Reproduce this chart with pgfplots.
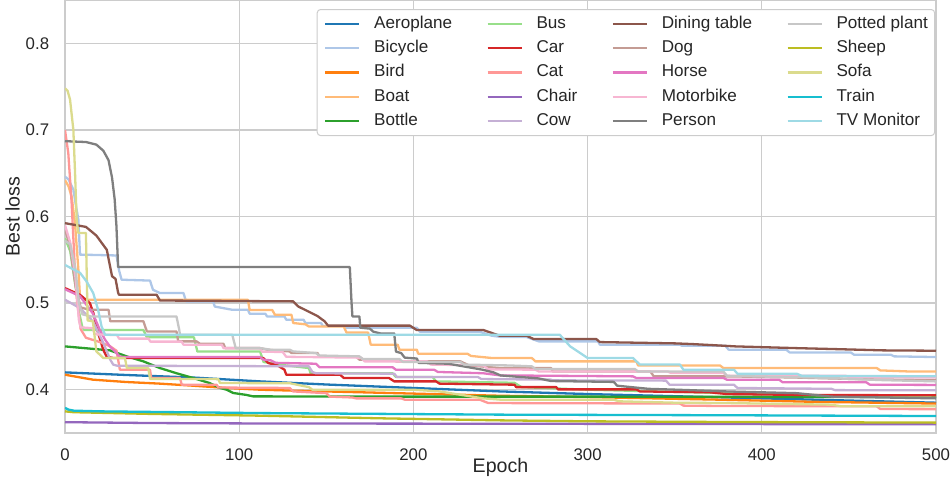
\documentclass[border=0pt]{standalone}
\usepackage{fontspec}
\setmainfont{Liberation Sans}
\usepackage{pgfplots}
\pgfplotsset{compat=1.18}
\definecolor{c1}{HTML}{1F77B4}
\definecolor{c2}{HTML}{AEC7E8}
\definecolor{c3}{HTML}{FF7F0E}
\definecolor{c4}{HTML}{FFBB78}
\definecolor{c5}{HTML}{2CA02C}
\definecolor{c6}{HTML}{98DF8A}
\definecolor{c7}{HTML}{D62728}
\definecolor{c8}{HTML}{FF9896}
\definecolor{c9}{HTML}{9467BD}
\definecolor{c10}{HTML}{C5B0D5}
\definecolor{c11}{HTML}{8C564B}
\definecolor{c12}{HTML}{C49C94}
\definecolor{c13}{HTML}{E377C2}
\definecolor{c14}{HTML}{F7B6D2}
\definecolor{c15}{HTML}{7F7F7F}
\definecolor{c16}{HTML}{C7C7C7}
\definecolor{c17}{HTML}{BCBD22}
\definecolor{c18}{HTML}{DBDB8D}
\definecolor{c19}{HTML}{17BECF}
\definecolor{c20}{HTML}{9EDAE5}
\definecolor{gridgray}{HTML}{CCCCCC}
\definecolor{textgray}{HTML}{262626}
\begin{document}
\begin{tikzpicture}
\useasboundingbox (-65pt,-57pt) rectangle (886pt,433pt);
\begin{axis}[
  at={(0pt,0pt)}, anchor=south west,
  width=871pt, height=433pt, scale only axis,
  xmin=0, xmax=500, ymin=0.35, ymax=0.85,
  xtick={0,100,200,300,400,500},
  ytick={0.4,0.5,0.6,0.7,0.8},
  /pgf/number format/assume math mode=true,
  yticklabel style={/pgf/number format/fixed,/pgf/number format/precision=1,/pgf/number format/fixed zerofill,
    anchor=east, inner sep=0pt, xshift=-15.7pt},
  xticklabel style={anchor=north, inner sep=0pt, yshift=-15.5pt},
  ticklabel style={font=\fontsize{16.8}{20}\selectfont, text=textgray},
  major tick length=0pt,
  grid=major,
  major grid style={line width=1.3pt, draw=gridgray},
  axis line style={line width=1.4pt, draw=gridgray},
  xlabel={Epoch},
  ylabel={Best loss},
  xlabel style={at={(axis description cs:0.5,0)}, anchor=north, inner sep=0pt, yshift=-25pt,
    font=\fontsize{19.6}{23}\selectfont, text=textgray},
  ylabel style={at={(axis description cs:-0.0517,0.5)}, anchor=south, inner sep=0pt,
    font=\fontsize{19.6}{23}\selectfont, text=textgray},
  every axis plot/.append style={line width=2.3pt, line join=round},
  legend columns=4,
  legend cell align=left,
  legend image code/.code={\draw[#1] (0pt,0pt) -- (34.2pt,0pt);},
  legend style={at={(rel axis cs:0.2890,0.9792)}, anchor=north west,
    draw=gridgray, line width=1pt, rounded corners=3.4pt, fill=white,
    font=\fontsize{17.1}{20}\selectfont, text=textgray,
    inner xsep=6.8pt, inner ysep=6.5pt, row sep=8.4pt,
    nodes={inner sep=0pt, text height=12.3pt, text depth=3.6pt},
    /tikz/every odd column/.append style={column sep=13.7pt},
    /tikz/every even column/.append style={column sep=34.2pt}},
]
% Aeroplane
\addplot[c1, forget plot] coordinates {(0,0.420)(35,0.417)(74,0.414)(112,0.4096)(129,0.408)(150,0.406)(200,0.402)(250,0.398)(300,0.395)(380,0.391)(440,0.388)(500,0.385)};
% Bicycle
\addplot[c2, forget plot] coordinates {(0,0.646)(2,0.643)(4.8,0.631)(6.5,0.61)(7.7,0.596)(8.6,0.556)(29.6,0.555)(31,0.538)(32.5,0.527)(48.8,0.526)(50.5,0.5154)(54.5,0.5116)(68,0.5116)(69.5,0.502)(85,0.502)(86,0.496)(96,0.4923)(105,0.4923)(106,0.4877)(115,0.4877)(116,0.4846)(126,0.4846)(127,0.4808)(137,0.4808)(138,0.477)(147,0.477)(148,0.4735)(160,0.4735)(161,0.4715)(202,0.4715)(203.7,0.467)(238,0.467)(245,0.4623)(250,0.461)(265,0.4608)(272,0.4558)(306,0.4558)(307,0.452)(353,0.452)(354,0.4508)(379,0.4508)(381,0.4462)(414,0.4462)(416,0.443)(451,0.443)(453,0.4404)(474,0.4404)(476,0.4385)(500,0.4377)};
% Bird
\addplot[c3, forget plot] coordinates {(0,0.4173)(5,0.4155)(16,0.4116)(35,0.4089)(54.5,0.407)(73.6,0.4046)(92.8,0.402)(112,0.400)(129,0.399)(170,0.397)(250,0.393)(300,0.3915)(375,0.3885)(430,0.386)(500,0.384)};
% Boat
\addplot[c4, forget plot] coordinates {(0,0.642)(2,0.635)(3.8,0.623)(5.7,0.593)(7.7,0.538)(8.6,0.508)(10.5,0.5039)(105,0.5039)(106,0.492)(119,0.492)(120.5,0.4865)(130,0.4865)(131,0.477)(138,0.4755)(140,0.473)(160,0.473)(161.6,0.466)(174,0.466)(175.5,0.452)(191,0.452)(192,0.4462)(202,0.4462)(202.7,0.4416)(231,0.4416)(233,0.439)(245,0.4366)(268,0.4366)(270,0.4327)(328,0.4327)(329,0.428)(376,0.428)(378,0.425)(466,0.425)(468,0.4223)(485,0.421)(500,0.421)};
% Bottle
\addplot[c5, forget plot] coordinates {(0,0.450)(25.8,0.4454)(35.4,0.4385)(45,0.4327)(54.5,0.425)(64,0.419)(73.6,0.4135)(83,0.4077)(89,0.402)(92.8,0.400)(96.6,0.3962)(104,0.394)(108,0.3923)(200,0.392)(300,0.392)(500,0.3915)};
% Bus
\addplot[c6, forget plot] coordinates {(0,0.575)(3,0.56)(6,0.52)(8,0.49)(10,0.472)(11,0.469)(45,0.469)(47,0.4605)(74,0.4605)(76,0.444)(112,0.444)(114,0.432)(127,0.428)(140,0.425)(141,0.419)(188,0.419)(190,0.4147)(211,0.4147)(213,0.4096)(258,0.408)(262,0.403)(300,0.400)(400,0.395)(500,0.391)};
% Car
\addplot[c7, forget plot] coordinates {(0,0.5173)(8.6,0.5096)(14.3,0.500)(16.3,0.4885)(19,0.4654)(22,0.446)(24,0.438)(27.7,0.4366)(113.8,0.4366)(116.7,0.4308)(122,0.428)(126,0.4231)(127,0.4173)(158,0.4173)(160,0.4135)(186,0.4135)(189,0.4096)(213,0.4096)(215,0.407)(250,0.406)(258,0.4058)(259,0.403)(282,0.403)(283,0.4004)(328,0.4004)(330,0.398)(370,0.397)(380,0.395)(420,0.394)(500,0.3935)};
% Cat
\addplot[c8, forget plot] coordinates {(0,0.700)(1.9,0.673)(3.8,0.616)(5.7,0.538)(7,0.50)(9,0.47)(12,0.46)(20,0.455)(26,0.45)(29.6,0.445)(31.5,0.4231)(48.8,0.4231)(49.5,0.4135)(66,0.4135)(67,0.4058)(87,0.4058)(88,0.4025)(129,0.402)(131,0.398)(150,0.396)(152,0.392)(165,0.391)(167,0.390)(193,0.390)(195,0.3885)(238,0.3885)(243,0.3846)(353,0.3840)(355,0.3816)(376,0.3812)(466,0.3808)(468,0.3777)(500,0.3775)};
% Chair
\addplot[c9, forget plot] coordinates {(0,0.3625)(50,0.3615)(112,0.361)(250,0.3607)(500,0.3600)};
% Cow
\addplot[c10, forget plot] coordinates {(0,0.5039)(8.6,0.4942)(16,0.479)(22,0.454)(26,0.4346)(27.7,0.4289)(30,0.4277)(140,0.427)(142,0.4205)(144,0.419)(189,0.4185)(190.5,0.4147)(237,0.4147)(239,0.4123)(279,0.4116)(280,0.4108)(345,0.4105)(347,0.4058)(384,0.4058)(386,0.402)(440,0.401)(442,0.3995)(500,0.3993)};
% Dining table
\addplot[c11, forget plot] coordinates {(0,0.5923)(12,0.588)(18,0.578)(24,0.5615)(27,0.531)(29,0.528)(30.5,0.512)(31,0.5096)(52.6,0.5096)(54.5,0.503)(131,0.502)(134,0.496)(140,0.49)(145,0.485)(149,0.479)(151,0.474)(198,0.474)(201.8,0.469)(240,0.469)(249.6,0.4623)(265,0.4623)(269,0.4585)(305,0.4585)(307,0.455)(350,0.4535)(360,0.4527)(376,0.451)(385,0.450)(420,0.448)(440,0.447)(470,0.4454)(500,0.445)};
% Dog
\addplot[c12, forget plot] coordinates {(0,0.585)(3,0.565)(6,0.52)(9,0.495)(14,0.4923)(25,0.4923)(26,0.479)(45,0.479)(47,0.4673)(64,0.4673)(65,0.4558)(75.5,0.4558)(77.5,0.453)(91,0.453)(92,0.448)(112,0.448)(116,0.4462)(129,0.4442)(130,0.4423)(145,0.4423)(146,0.4385)(167,0.4385)(169,0.4346)(188,0.4346)(190,0.4327)(227,0.4327)(232,0.428)(250,0.425)(279,0.425)(280,0.4211)(336,0.4211)(338,0.4154)(381,0.4154)(420,0.414)(460,0.412)(500,0.411)};
% Horse
\addplot[c13, forget plot] coordinates {(0,0.516)(8.6,0.508)(16,0.488)(20,0.469)(23,0.4577)(25.8,0.45)(28.7,0.444)(31.6,0.438)(35,0.4377)(112,0.4377)(114,0.4346)(118,0.434)(121,0.431)(144,0.430)(146,0.426)(188,0.426)(190,0.423)(212,0.423)(214,0.4205)(240,0.419)(250,0.4165)(326,0.4154)(328,0.4135)(378,0.4135)(380,0.4115)(410,0.4115)(412,0.4085)(460,0.4085)(462,0.4058)(500,0.4055)};
% Motorbike
\addplot[c14, forget plot] coordinates {(0,0.59)(3,0.57)(6,0.53)(8,0.48)(9,0.472)(16,0.471)(17,0.464)(30,0.463)(31,0.459)(48,0.459)(49,0.4555)(67,0.4555)(68,0.452)(90,0.452)(91,0.448)(112,0.448)(113,0.444)(125,0.4435)(127,0.438)(170,0.437)(172,0.4327)(208,0.4327)(210,0.429)(240,0.428)(243,0.4235)(270,0.4231)(272,0.421)(346,0.421)(348,0.4192)(378,0.4192)(380,0.4162)(448,0.4162)(450,0.4147)(500,0.414)};
% Person
\addplot[c15, forget plot] coordinates {(0,0.687)(12,0.686)(18,0.683)(22,0.676)(25,0.665)(27,0.645)(28.5,0.62)(29.5,0.59)(30.5,0.5416)(163.5,0.5416)(164.5,0.50)(165,0.4846)(169,0.4846)(169.5,0.4716)(175,0.4705)(177,0.467)(181,0.465)(189,0.465)(190,0.444)(193,0.4423)(195,0.437)(202,0.436)(203,0.431)(220,0.430)(240,0.423)(246,0.420)(250,0.4165)(272,0.413)(279,0.410)(315,0.409)(317,0.4046)(335,0.401)(351,0.400)(380,0.398)(420,0.396)(440,0.392)(500,0.390)};
% Potted plant
\addplot[c16, forget plot] coordinates {(0,0.572)(3,0.568)(6,0.54)(8,0.50)(10,0.487)(15,0.4846)(64,0.4846)(65.5,0.47)(66,0.4635)(96,0.4635)(98,0.448)(112,0.448)(118,0.4462)(129,0.4462)(131,0.4442)(144,0.4423)(146,0.4395)(169,0.4385)(171,0.4354)(192,0.4354)(194,0.432)(227,0.432)(229,0.429)(255,0.428)(268,0.427)(270,0.424)(327,0.424)(329,0.421)(378,0.421)(380,0.416)(430,0.414)(470,0.411)(500,0.4096)};
% Sheep
\addplot[c17, forget plot] coordinates {(0,0.375)(5,0.374)(50,0.372)(112,0.370)(180,0.367)(250,0.3646)(300,0.3635)(380,0.3627)(500,0.362)};
% Sofa
\addplot[c18, forget plot] coordinates {(0,0.748)(1.5,0.745)(2.9,0.735)(4.8,0.700)(5.7,0.654)(6.7,0.596)(7.6,0.581)(12,0.581)(12.5,0.531)(13,0.48)(16,0.479)(18,0.4443)(22,0.4366)(34.4,0.4366)(35.5,0.425)(47.8,0.425)(48.8,0.4125)(88,0.4123)(89,0.4077)(129,0.4075)(135,0.405)(140,0.403)(142,0.400)(200,0.400)(215,0.398)(240,0.390)(250,0.3885)(315,0.3885)(318,0.3866)(350,0.385)(380,0.3846)(440,0.3827)(445,0.381)(500,0.381)};
% Train
\addplot[c19, forget plot] coordinates {(0,0.379)(2,0.377)(5,0.3758)(20,0.375)(112,0.373)(250,0.3712)(380,0.3705)(500,0.3696)};
% TV Monitor
\addplot[c20, forget plot] coordinates {(0,0.544)(8.6,0.535)(12.4,0.525)(16.2,0.5116)(19,0.4923)(21,0.473)(23,0.4635)(284,0.4635)(290,0.450)(300,0.4366)(326,0.4366)(330,0.429)(353,0.429)(355,0.4231)(384,0.4231)(386,0.4185)(420,0.4185)(423,0.416)(500,0.4155)};
% legend, filled column-wise as in the reference
\addlegendimage{c1, line width=2.3pt}\addlegendentry{Aeroplane}
\addlegendimage{c6, line width=2.3pt}\addlegendentry{Bus}
\addlegendimage{c11, line width=2.3pt}\addlegendentry{Dining table}
\addlegendimage{c16, line width=2.3pt}\addlegendentry{Potted plant}
\addlegendimage{c2, line width=2.3pt}\addlegendentry{Bicycle}
\addlegendimage{c7, line width=2.3pt}\addlegendentry{Car}
\addlegendimage{c12, line width=2.3pt}\addlegendentry{Dog}
\addlegendimage{c17, line width=2.3pt}\addlegendentry{Sheep}
\addlegendimage{c3, line width=2.3pt}\addlegendentry{Bird}
\addlegendimage{c8, line width=2.3pt}\addlegendentry{Cat}
\addlegendimage{c13, line width=2.3pt}\addlegendentry{Horse}
\addlegendimage{c18, line width=2.3pt}\addlegendentry{Sofa}
\addlegendimage{c4, line width=2.3pt}\addlegendentry{Boat}
\addlegendimage{c9, line width=2.3pt}\addlegendentry{Chair}
\addlegendimage{c14, line width=2.3pt}\addlegendentry{Motorbike}
\addlegendimage{c19, line width=2.3pt}\addlegendentry{Train}
\addlegendimage{c5, line width=2.3pt}\addlegendentry{Bottle}
\addlegendimage{c10, line width=2.3pt}\addlegendentry{Cow}
\addlegendimage{c15, line width=2.3pt}\addlegendentry{Person}
\addlegendimage{c20, line width=2.3pt}\addlegendentry{TV Monitor}
\end{axis}
\end{tikzpicture}
\end{document}
